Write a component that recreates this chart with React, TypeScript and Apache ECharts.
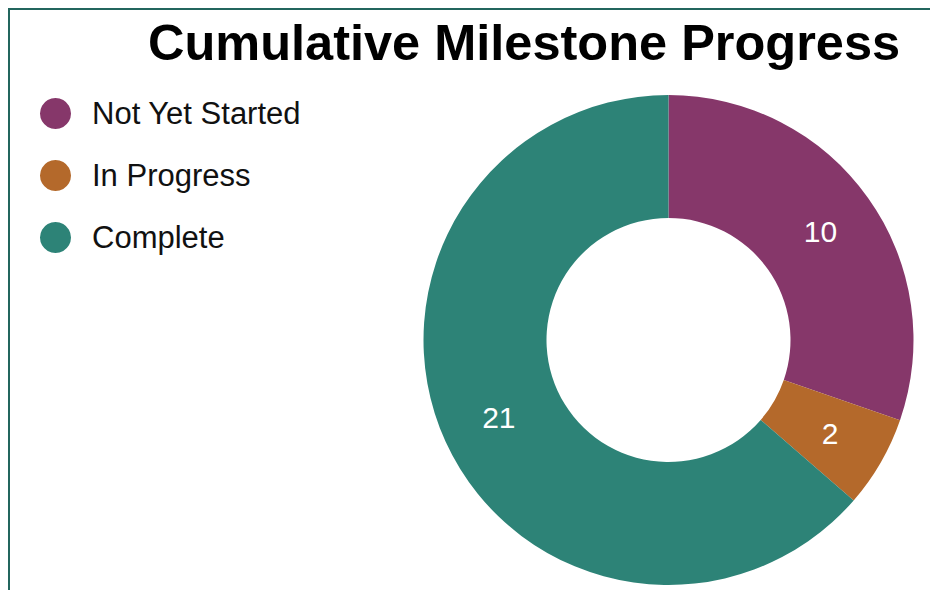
import React, { useEffect, useRef } from "react";
import * as echarts from "echarts";

const titleText = "Cumulative Milestone Progress";
const categories = ["Not Yet Started", "In Progress", "Complete"];
const values = [10, 2, 21];
const colors = ["#86376a", "#b4692b", "#2d8377"];

export default function App() {
  const ref = useRef<HTMLDivElement>(null);
  useEffect(() => {
    document.body.style.margin = "0";
    const chart = echarts.init(ref.current!, null, { renderer: "svg" });
    chart.setOption({
      animation: false,
      title: {
        text: titleText,
        left: 133,
        top: 2,
        textStyle: {
          fontFamily: "Liberation Sans, Arial, sans-serif",
          fontSize: 50.5,
          fontWeight: "bold",
          color: "#000",
        },
      },
      legend: {
        orient: "vertical",
        left: 25,
        top: 83,
        icon: "circle",
        itemWidth: 31,
        itemHeight: 31,
        itemGap: 31,
        data: categories,
        textStyle: {
          fontFamily: "Liberation Sans, Arial, sans-serif",
          fontSize: 31,
          color: "#111",
          padding: [0, 0, 0, 16],
        },
      },
      series: [
        {
          type: "pie",
          center: [658.5, 330],
          radius: [122, 245],
          startAngle: 90,
          clockwise: true,
          data: categories.map((c, i) => ({
            name: c,
            value: values[i],
            itemStyle: { color: colors[i] },
          })),
          label: {
            show: true,
            position: "inside",
            formatter: "{c}",
            color: "#fff",
            fontFamily: "Liberation Sans, Arial, sans-serif",
            fontSize: 30,
          },
          labelLine: { show: false },
          emphasis: { disabled: true },
        },
      ],
    });
    return () => chart.dispose();
  }, []);
  return (
    <div
      style={{
        position: "absolute",
        left: 8,
        top: 8,
        width: 922,
        height: 582,
        boxSizing: "border-box",
        borderTop: "2px solid #23665e",
        borderLeft: "2px solid #23665e",
        overflow: "hidden",
      }}
    >
      <div ref={ref} style={{ width: 920, height: 580 }} />
    </div>
  );
}
